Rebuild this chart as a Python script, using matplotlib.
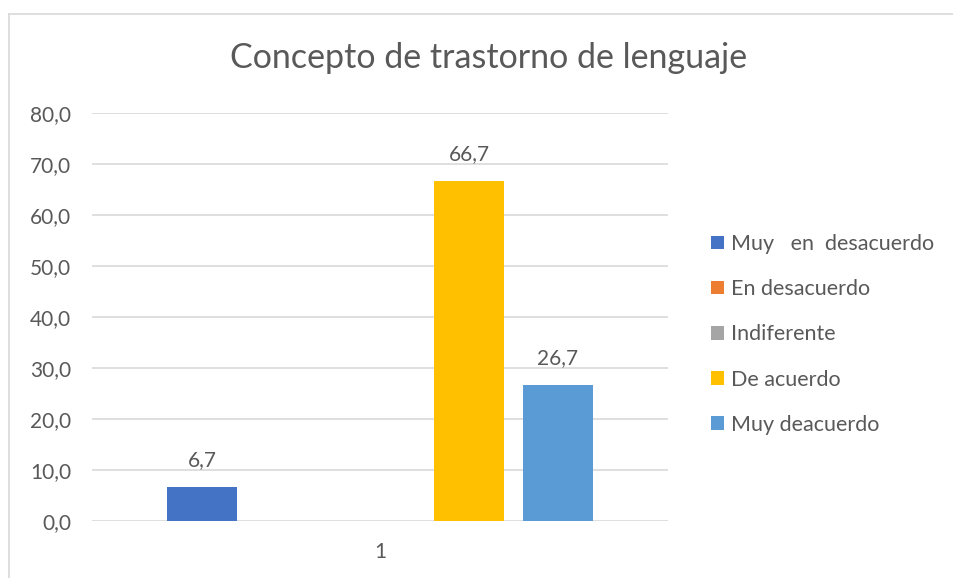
import matplotlib.pyplot as plt
import numpy as np

plt.rcParams['font.family'] = ['Lato', 'DejaVu Sans']

series = ['Muy   en  desacuerdo', 'En desacuerdo', 'Indiferente', 'De acuerdo', 'Muy deacuerdo']
values = [6.7, 0.0, 0.0, 66.7, 26.7]
colors = ['#4472C4', '#ED7D31', '#A5A5A5', '#FFC000', '#5B9BD5']
category = '1'
yticks = [0, 10, 20, 30, 40, 50, 60, 70, 80]

txt = '#595959'
fig = plt.figure(figsize=(9.54, 5.78), dpi=100)
ax = fig.add_axes([92 / 954, 1 - 521 / 578, 576 / 954, 408 / 578])

pitch = 0.1545
width = 0.1215
for i, (name, v, c) in enumerate(zip(series, values, colors)):
    x = (i - 2) * pitch
    ax.bar(x, v, width, color=c, label=name, zorder=3)
    if v > 0:
        ax.text(x, v + 3.2, f'{v:.1f}'.replace('.', ','), ha='center', va='bottom',
                fontsize=15, color=txt)

ax.set_xlim(-0.5, 0.5)
ax.set_ylim(0, 80)
ax.set_yticks(yticks)
ax.set_yticklabels([f'{t:.1f}'.replace('.', ',') for t in yticks], fontsize=15, color=txt)
ax.set_xticks([0])
ax.set_xticklabels([category], fontsize=15, color=txt)
ax.tick_params(length=0)
ax.tick_params(axis='y', pad=15)
ax.tick_params(axis='x', pad=15)
ax.grid(axis='y', color='#D9D9D9', linewidth=1.2, zorder=0)
for s in ax.spines.values():
    s.set_visible(False)

fig.text(489 / 954, 1 - 58 / 578, 'Concepto de trastorno de lenguaje', ha='center', va='center',
         fontsize=24.5, color=txt)

leg = ax.legend(loc='upper left', bbox_to_anchor=(711 / 954, 1 - 234 / 578),
                bbox_transform=fig.transFigure, frameon=False, fontsize=15.5,
                borderpad=0, borderaxespad=0,
                handlelength=0.6, handleheight=0.6, handletextpad=0.35, labelspacing=1.17)
for t in leg.get_texts():
    t.set_color(txt)

# chart border
fig.add_artist(plt.Line2D([9 / 954, 9 / 954], [0, 1 - 14 / 578], color='#D9D9D9', lw=1.2))
fig.add_artist(plt.Line2D([9 / 954, 1], [1 - 14 / 578, 1 - 14 / 578], color='#D9D9D9', lw=1.2))

fig.savefig('out.png', dpi=100)
